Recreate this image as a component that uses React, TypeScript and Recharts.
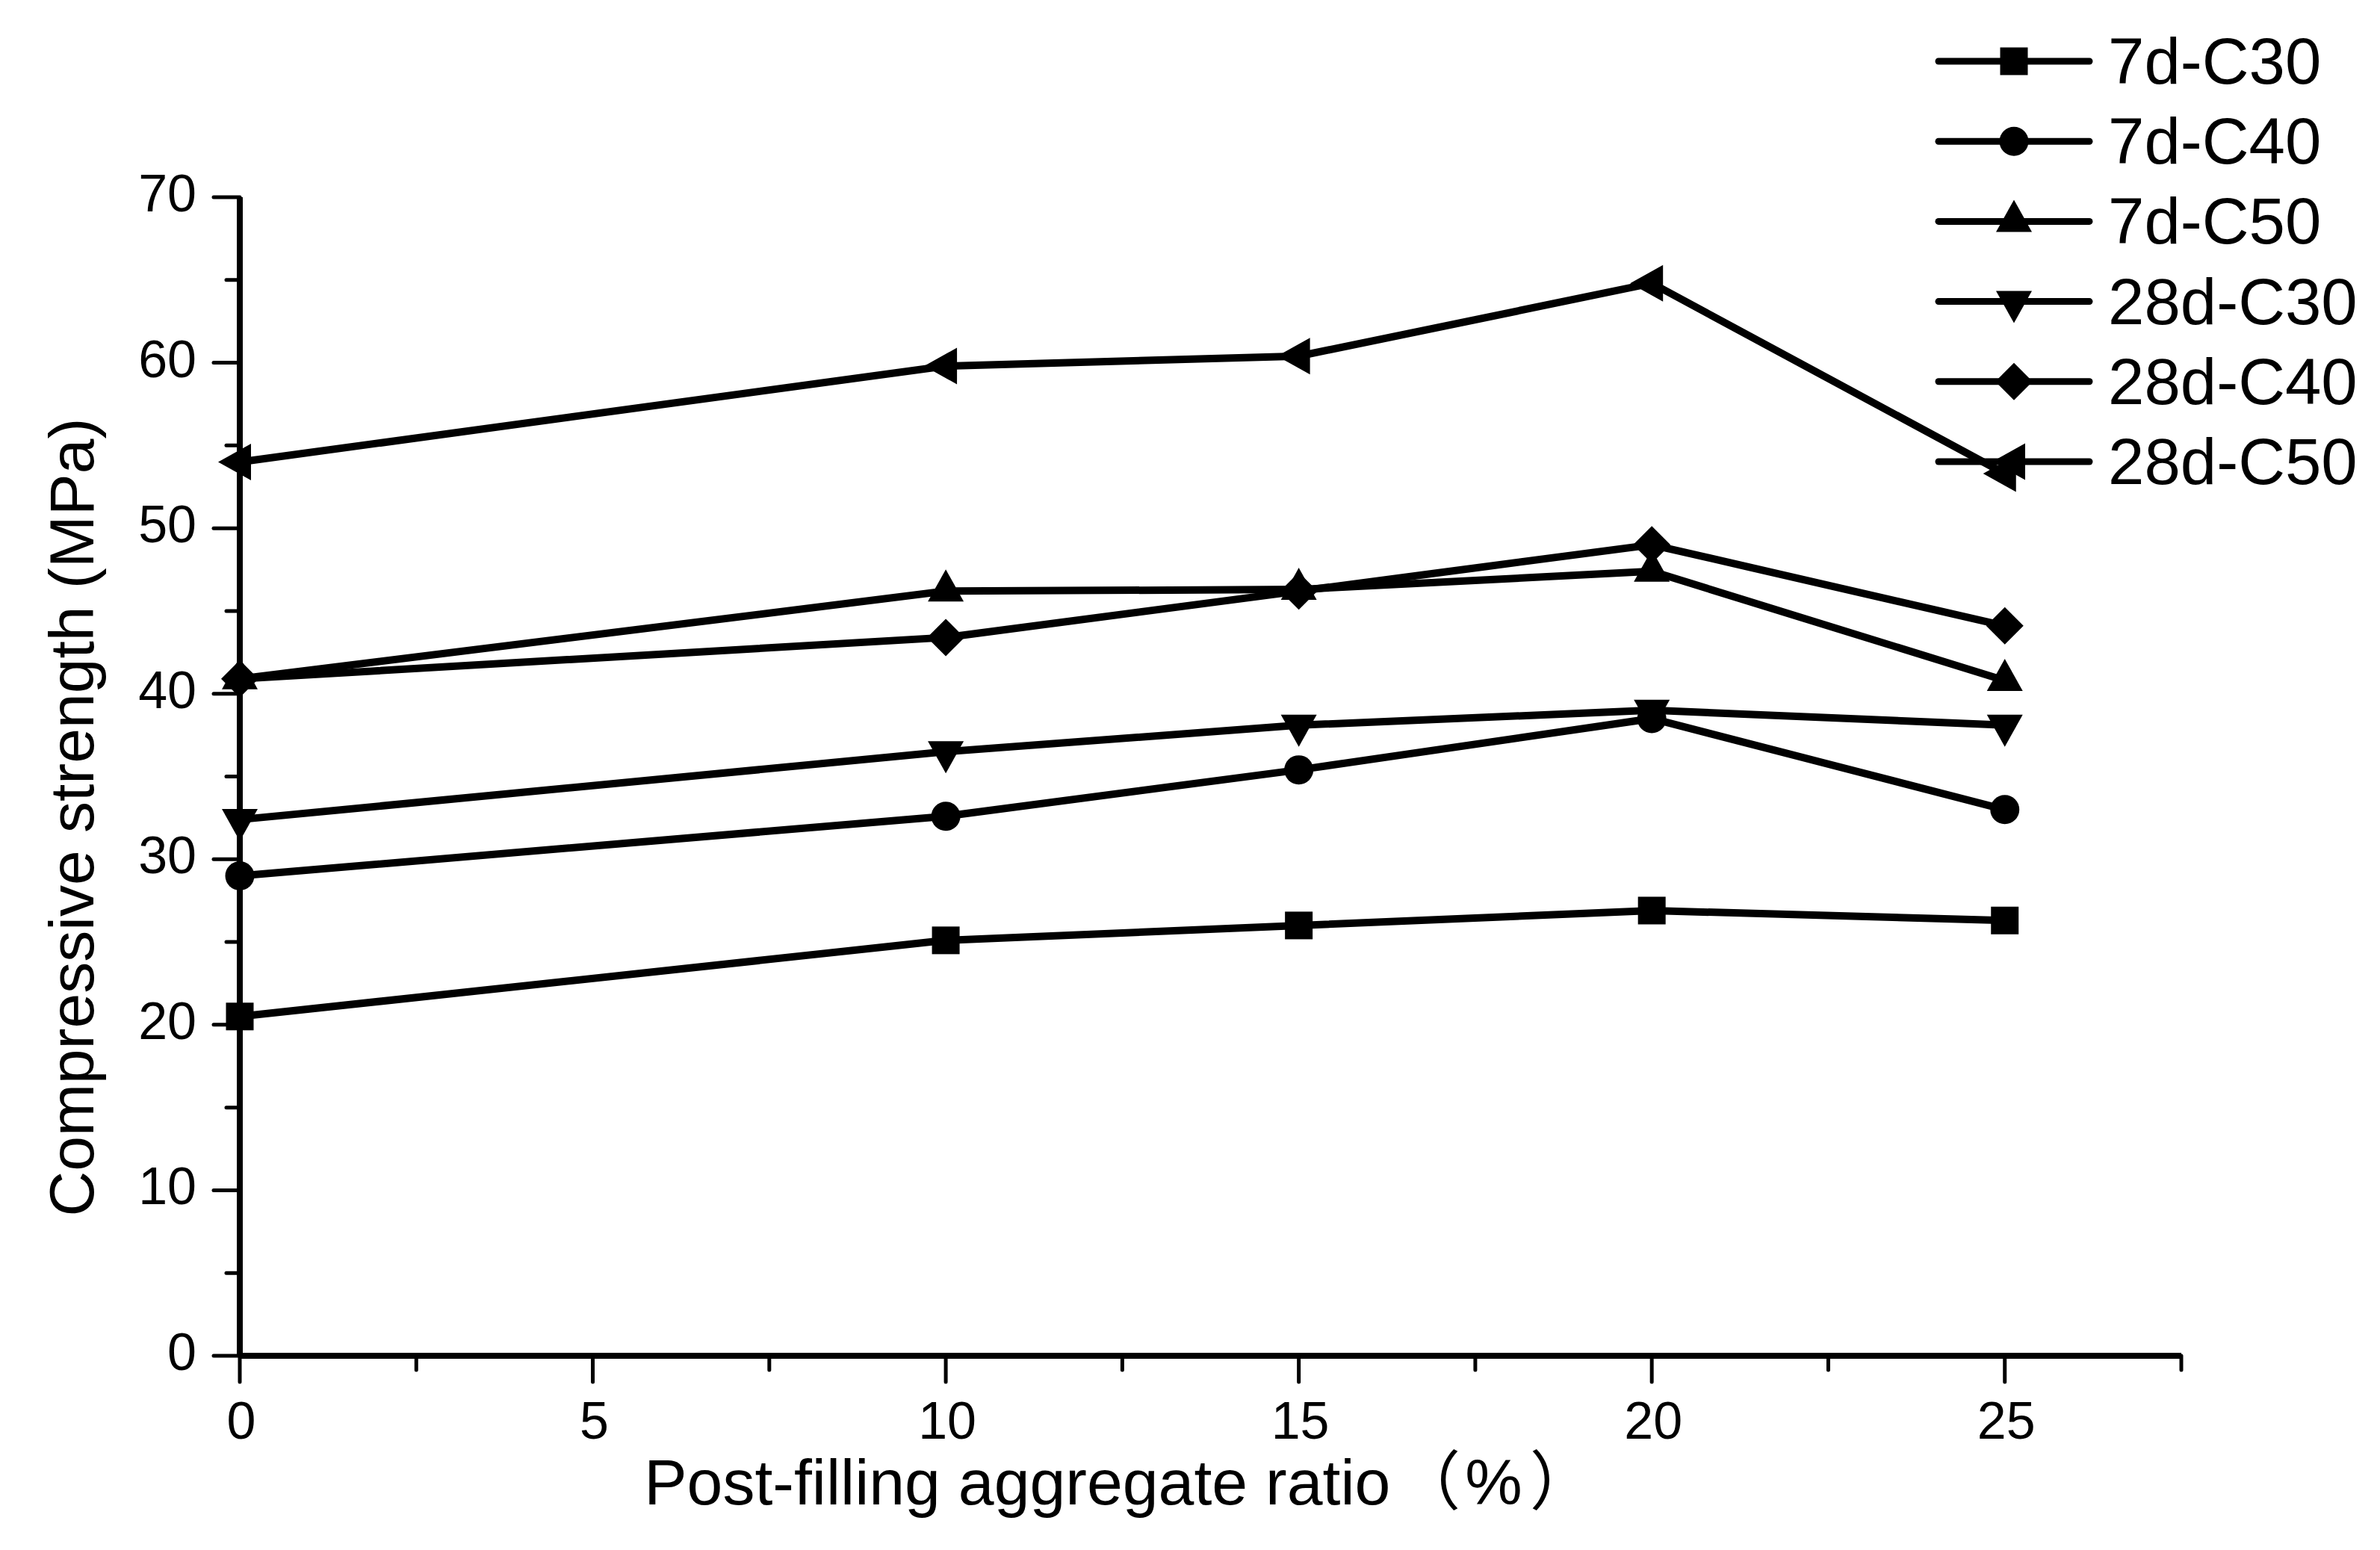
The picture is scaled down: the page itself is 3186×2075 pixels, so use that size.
import React from 'react';
import { LineChart, Line, XAxis, YAxis, Legend, Label } from 'recharts';

const ratios = [0, 10, 15, 20, 25];
const c30d7 = [20.5, 25.1, 26.0, 26.9, 26.3];
const c40d7 = [29.0, 32.6, 35.4, 38.5, 33.0];
const c50d7 = [40.9, 46.2, 46.3, 47.4, 40.8];
const c30d28 = [32.4, 36.5, 38.1, 39.0, 38.1];
const c40d28 = [40.9, 43.4, 46.2, 49.0, 44.1];
const c50d28 = [54.0, 59.8, 60.4, 64.8, 53.3];

const seriesNames = ['7d-C30', '7d-C40', '7d-C50', '28d-C30', '28d-C40', '28d-C50'];
const seriesValues = [c30d7, c40d7, c50d7, c30d28, c40d28, c50d28];
const markers = ['square', 'circle', 'up', 'down', 'diamond', 'left'];

const xTicks = [0, 2.5, 5, 7.5, 10, 12.5, 15, 17.5, 20, 22.5, 25, 27.5];
const yTicks = [0, 5, 10, 15, 20, 25, 30, 35, 40, 45, 50, 55, 60, 65, 70];

const data = ratios.map((x, i) => {
  const row: Record<string, number> = { x };
  seriesNames.forEach((name, s) => {
    row[name] = seriesValues[s][i];
  });
  return row;
});

const FONT = '"Liberation Sans", Arial, "Noto Sans CJK SC", sans-serif';
const W = 3186;
const H = 2075;
const PLOT_LEFT = 321;
const PLOT_BOTTOM = 1815;

const Marker = ({ kind, cx, cy }: { kind: string; cx: number; cy: number }) => {
  switch (kind) {
    case 'square':
      return <rect x={cx - 18.5} y={cy - 18.5} width={37} height={37} fill="#000" />;
    case 'circle':
      return <circle cx={cx} cy={cy} r={19.5} fill="#000" />;
    case 'up':
      return <polygon points={`${cx},${cy - 29} ${cx + 24},${cy + 14} ${cx - 24},${cy + 14}`} fill="#000" />;
    case 'down':
      return <polygon points={`${cx},${cy + 29} ${cx + 24},${cy - 14} ${cx - 24},${cy - 14}`} fill="#000" />;
    case 'diamond':
      return <polygon points={`${cx},${cy - 25} ${cx + 25},${cy} ${cx},${cy + 25} ${cx - 25},${cy}`} fill="#000" />;
    default:
      return <polygon points={`${cx - 29},${cy} ${cx + 15},${cy - 24.5} ${cx + 15},${cy + 24.5}`} fill="#000" />;
  }
};

const makeDot = (kind: string) => (props: any) => (
  <Marker key={`${kind}-${props.index}`} kind={kind} cx={props.cx} cy={props.cy} />
);

const XTick = (props: any) => {
  const { x, payload } = props;
  const major = payload.value % 5 === 0;
  return (
    <g>
      <line x1={x} x2={x} y1={PLOT_BOTTOM} y2={PLOT_BOTTOM + (major ? 35 : 19)} stroke="#000" strokeWidth={5} strokeLinecap="round" />
      {major && payload.value <= 25 && (
        <text x={x + 2} y={PLOT_BOTTOM + 111} textAnchor="middle" fontSize={70} fontFamily={FONT} fill="#000">
          {payload.value}
        </text>
      )}
    </g>
  );
};

const YTick = (props: any) => {
  const { y, payload } = props;
  const major = payload.value % 10 === 0;
  return (
    <g>
      <line x1={PLOT_LEFT} x2={PLOT_LEFT - (major ? 35 : 18)} y1={y} y2={y} stroke="#000" strokeWidth={5} strokeLinecap="round" />
      {major && (
        <text x={263} y={y + 19} textAnchor="end" fontSize={70} fontFamily={FONT} fill="#000">
          {payload.value}
        </text>
      )}
    </g>
  );
};

// legend drawn in the series order of the source figure
const LegendBox = () => (
  <svg width={620} height={680} style={{ display: 'block' }}>
    {seriesNames.map((name, i) => {
      const cy = 82 + i * 107.2;
      return (
        <g key={name}>
          <line x1={35} x2={237} y1={cy} y2={cy} stroke="#000" strokeWidth={9} strokeLinecap="round" />
          <Marker kind={markers[i]} cx={136} cy={cy} />
          <text x={262} y={cy + 30} fontSize={87} fontFamily={FONT} fill="#000">
            {name}
          </text>
        </g>
      );
    })}
  </svg>
);

export default function App() {
  return (
    <div style={{ position: 'absolute', left: 0, top: 0, background: '#fff' }}>
      <LineChart
        width={W}
        height={H}
        data={data}
        margin={{ top: 264, right: 266, left: 121, bottom: 110 }}
      >
        <XAxis
          type="number"
          dataKey="x"
          domain={[0, 27.5]}
          ticks={xTicks}
          interval={0}
          height={150}
          tickSize={0}
          tickMargin={0}
          tickLine={false}
          tick={<XTick />}
          axisLine={{ stroke: '#000', strokeWidth: 8 }}
        >
          <Label
            content={() => (
              <text x={1498} y={2014} textAnchor="middle" fontSize={86} fontFamily={FONT} fill="#000">
                Post-filling aggregate ratio<tspan dx={8}>（</tspan><tspan dx={6}>%</tspan><tspan dx={10}>）</tspan>
              </text>
            )}
          />
        </XAxis>
        <YAxis
          type="number"
          domain={[0, 70]}
          ticks={yTicks}
          interval={0}
          width={200}
          tickSize={0}
          tickMargin={0}
          tickLine={false}
          tick={<YTick />}
          axisLine={{ stroke: '#000', strokeWidth: 8 }}
        >
          <Label
            content={() => (
              <text
                x={125}
                y={1094}
                transform="rotate(-90 125 1094)"
                textAnchor="middle"
                fontSize={84}
                fontFamily={FONT}
                fill="#000"
              >
                Compressive strength (MPa)
              </text>
            )}
          />
        </YAxis>
        <Legend
          layout="horizontal"
          align="center"
          verticalAlign="middle"
          content={<LegendBox />}
          wrapperStyle={{ position: 'absolute', left: 2560, top: 0, width: 620, height: 680 }}
        />
        {seriesNames.map((name, s) => (
          <Line
            key={name}
            type="linear"
            dataKey={name}
            name={name}
            stroke="#000"
            strokeWidth={10}
            dot={makeDot(markers[s])}
            activeDot={false}
            legendType="line"
            isAnimationActive={false}
          />
        ))}
      </LineChart>
    </div>
  );
}
